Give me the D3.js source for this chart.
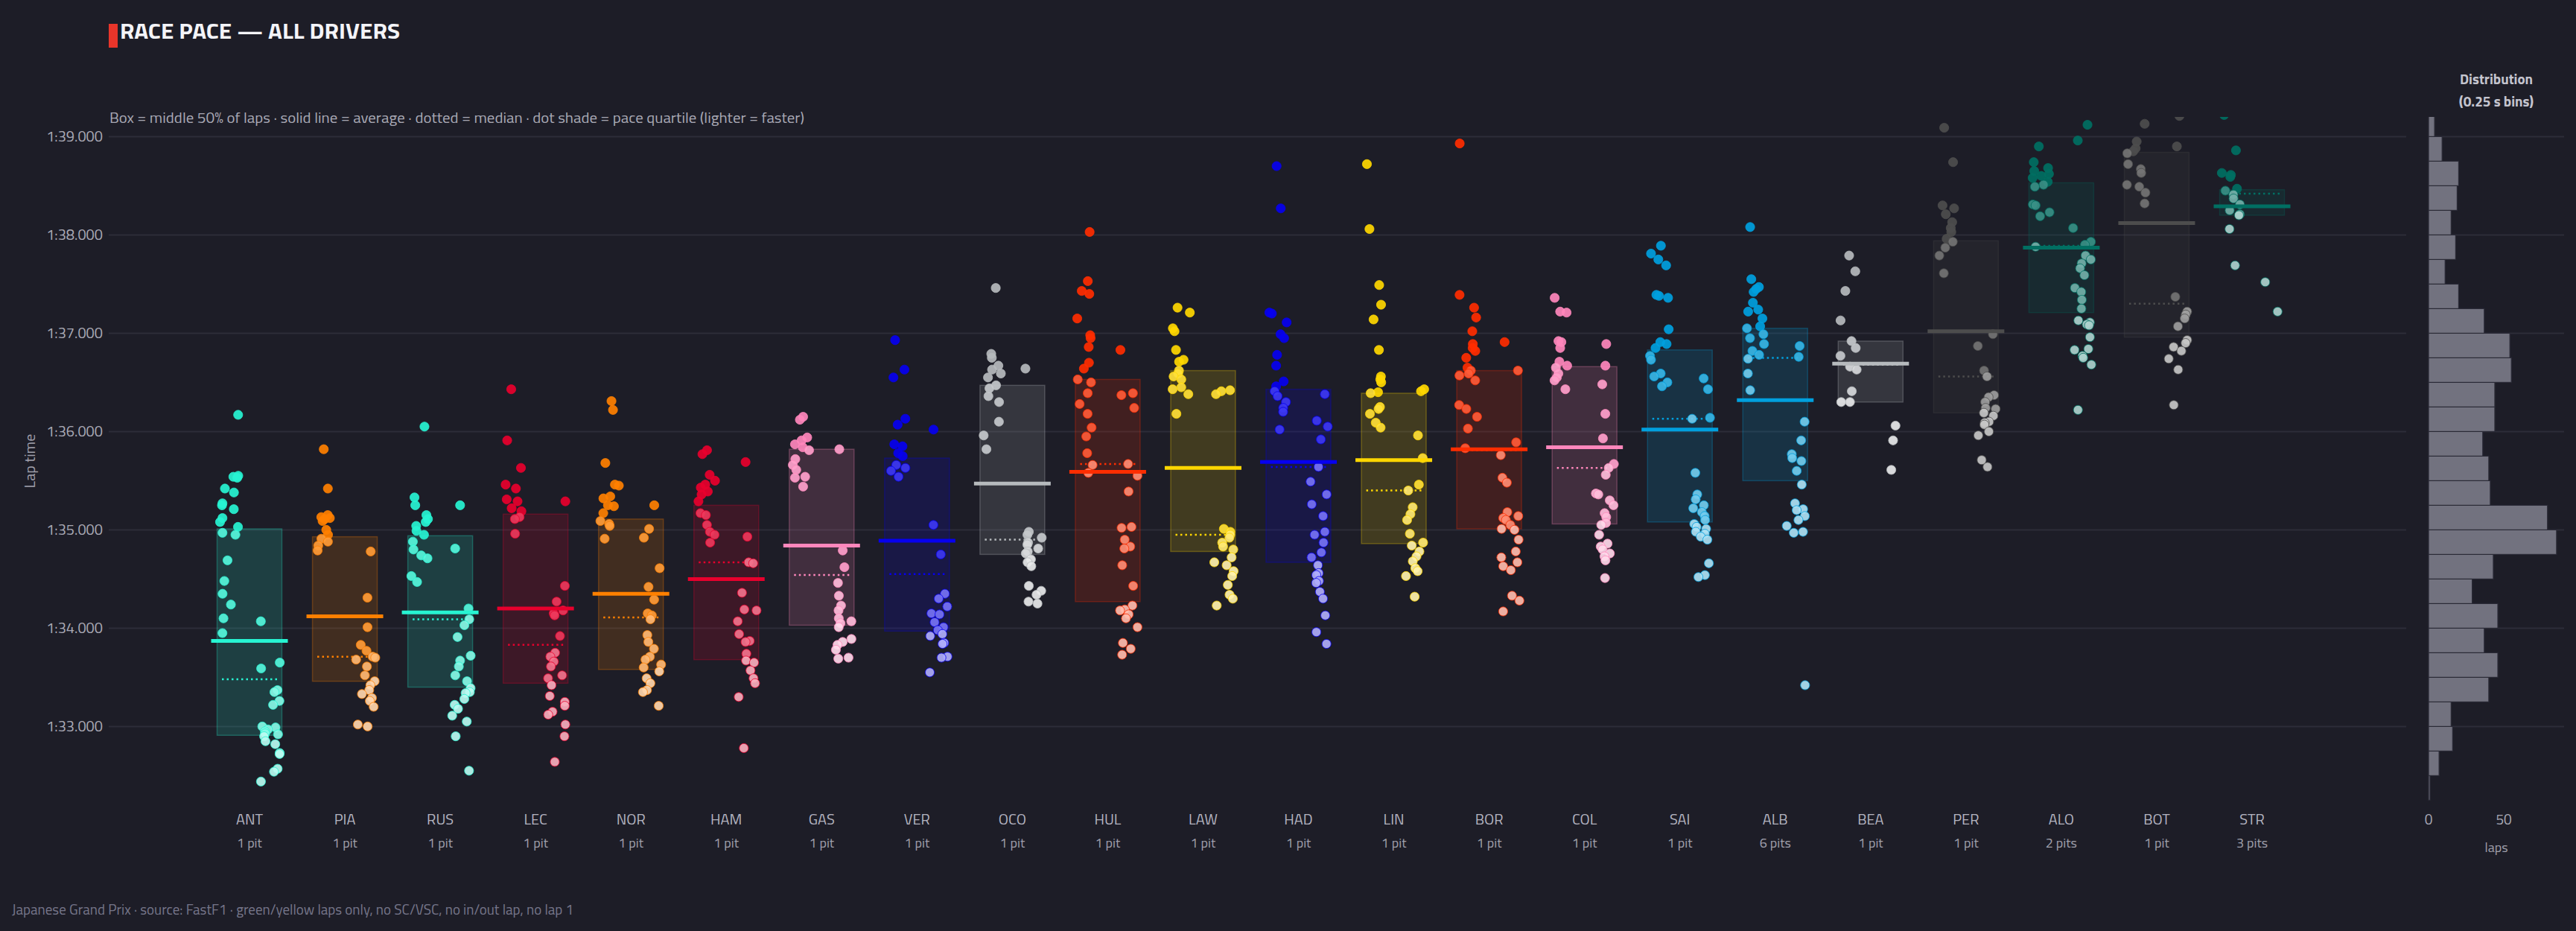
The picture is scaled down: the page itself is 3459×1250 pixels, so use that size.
<!DOCTYPE html>
<html>
<head>
<meta charset="utf-8">
<script src="https://cdn.jsdelivr.net/npm/d3@7"></script>
<style>
  body { margin: 0; background: #1d1d27; }
  svg { display: block; font-family: "Titillium Web", Roboto, "Noto Sans", sans-serif; }
</style>
</head>
<body>
<svg id="chart"></svg>
<script>
// race pace per driver, lap times in seconds
var drivers = ['ANT','PIA','RUS','LEC','NOR','HAM','GAS','VER','OCO','HUL','LAW','HAD','LIN','BOR','COL','SAI','ALB','BEA','PER','ALO','BOT','STR']
var teamColor = ['#27F4D2','#FF8000','#27F4D2','#E8002D','#FF8000','#E8002D','#FF87BC','#0600EF','#B6BABD','#FF2D00','#FFD700',
	'#0600EF','#FFD700','#FF2D00','#FF87BC','#00A0DE','#00A0DE','#B6BABD','#4D4D4D','#006F62','#4D4D4D','#006F62']
var pitStops = [1,1,1,1,1,1,1,1,1,1,1,1,1,1,1,1,6,1,1,2,1,3]

// left column of dots (early laps) and right column (later laps)
var earlyLaps = [
	[96.17,95.55,95.54,95.53,95.42,95.38,95.27,95.25,95.21,95.12,95.08,95.03,94.97,94.95,94.69,94.48,94.35,94.24,94.10,93.95],
	[95.82,95.42,95.15,95.13,95.12,95.11,95.09,95.00,94.95,94.91,94.88,94.84,94.79],
	[96.05,95.33,95.25,95.15,95.11,95.08,95.04,94.99,94.95,94.88,94.80,94.74,94.71,94.53,94.47],
	[96.43,95.91,95.63,95.46,95.42,95.31,95.29,95.22,95.19,95.13,95.11,94.96],
	[96.31,96.22,95.68,95.46,95.45,95.34,95.32,95.25,95.24,95.17,95.09,95.06,95.04,94.91],
	[95.81,95.77,95.56,95.50,95.46,95.43,95.39,95.36,95.29,95.17,95.15,95.05,94.98,94.95,94.87],
	[96.15,96.12,95.94,95.91,95.87,95.84,95.81,95.72,95.66,95.61,95.54,95.53,95.44],
	[96.93,96.63,96.55,96.13,96.07,95.87,95.85,95.78,95.75,95.66,95.63,95.60,95.54],
	[97.46,96.79,96.75,96.67,96.63,96.59,96.55,96.47,96.44,96.36,96.30,96.10,95.96,95.82],
	[98.03,97.53,97.43,97.40,97.15,96.98,96.95,96.86,96.70,96.64,96.53,96.50,96.39,96.28,96.18,96.04,95.95,95.78,95.66,95.58],
	[97.26,97.21,97.05,97.02,96.83,96.73,96.71,96.62,96.59,96.56,96.53,96.45,96.43,96.38,96.18],
	[98.70,98.27,97.21,97.20,97.11,96.99,96.95,96.78,96.67,96.51,96.46,96.41,96.36,96.30,96.24,96.20,96.02],
	[98.72,98.06,97.49,97.29,97.14,96.83,96.56,96.53,96.50,96.40,96.39,96.25,96.23,96.18,96.09,96.04],
	[98.93,97.39,97.26,97.16,97.02,96.89,96.85,96.82,96.75,96.65,96.62,96.59,96.57,96.52,96.27,96.23,96.15,96.03,95.83],
	[97.36,97.22,97.21,96.92,96.91,96.85,96.71,96.67,96.65,96.59,96.55,96.52,96.43],
	[97.89,97.81,97.75,97.69,97.39,97.38,97.36,97.04,96.91,96.89,96.85,96.77,96.73,96.59,96.56,96.50,96.46],
	[98.08,97.55,97.47,97.45,97.42,97.31,97.24,97.22,97.15,97.07,97.05,96.99,96.95,96.89,96.82,96.78,96.74,96.59,96.42],
	[97.79,97.63,97.43,97.13,96.92,96.85,96.77,96.66,96.63,96.41,96.30,96.30],
	[99.09,98.74,98.30,98.27,98.21,98.13,98.07,98.03,97.96,97.93,97.87,97.79,97.61],
	[98.90,98.74,98.68,98.65,98.62,98.60,98.58,98.54,98.51,98.49,98.31,98.30,98.23,98.19,97.88],
	[99.13,98.95,98.88,98.85,98.83,98.72,98.67,98.63,98.51,98.49,98.43,98.32],
	[99.22,98.86,98.63,98.61,98.59,98.47,98.45,98.41,98.37,98.31,98.25,98.21,98.20,98.06,97.69]
]
var lateLaps = [
	[94.07,93.65,93.59,93.37,93.35,93.26,93.22,93.00,92.99,92.97,92.95,92.93,92.92,92.90,92.85,92.82,92.73,92.72,92.57,92.54,92.44],
	[94.78,94.31,94.01,93.83,93.77,93.71,93.70,93.68,93.61,93.52,93.46,93.42,93.37,93.33,93.29,93.26,93.20,93.02,93.00],
	[95.25,94.81,94.20,94.09,94.03,93.91,93.72,93.67,93.61,93.52,93.46,93.39,93.35,93.34,93.28,93.22,93.18,93.11,93.05,92.90,92.55],
	[95.29,94.43,94.27,94.18,94.15,94.13,93.92,93.75,93.71,93.66,93.61,93.52,93.49,93.42,93.31,93.25,93.21,93.15,93.12,93.02,92.90,92.64],
	[95.25,95.01,94.92,94.61,94.42,94.29,94.15,94.13,94.09,93.93,93.86,93.79,93.71,93.68,93.63,93.60,93.56,93.49,93.44,93.37,93.35,93.21],
	[95.69,94.93,94.67,94.66,94.36,94.19,94.18,94.07,93.94,93.87,93.86,93.74,93.67,93.65,93.57,93.49,93.44,93.30,92.78],
	[95.82,94.79,94.62,94.46,94.33,94.23,94.18,94.10,94.07,94.05,94.01,93.89,93.86,93.83,93.78,93.70,93.69],
	[96.02,95.05,94.75,94.35,94.30,94.22,94.15,94.14,94.06,94.01,93.98,93.94,93.92,93.85,93.84,93.71,93.70,93.55],
	[96.64,94.98,94.95,94.92,94.87,94.85,94.81,94.78,94.76,94.70,94.67,94.63,94.43,94.38,94.34,94.27,94.25],
	[96.83,96.39,96.37,96.24,95.67,95.55,95.39,95.03,95.02,94.90,94.83,94.81,94.64,94.43,94.23,94.19,94.18,94.14,94.10,94.01,93.85,93.79,93.73],
	[96.42,96.41,96.38,95.01,94.98,94.95,94.92,94.87,94.83,94.80,94.72,94.67,94.64,94.58,94.53,94.44,94.34,94.30,94.23],
	[96.38,96.11,96.05,95.92,95.64,95.49,95.36,95.26,95.14,94.98,94.95,94.87,94.77,94.72,94.64,94.56,94.54,94.48,94.46,94.37,94.30,94.13,93.96,93.84],
	[96.43,96.41,95.96,95.73,95.46,95.40,95.23,95.16,95.10,94.96,94.87,94.84,94.78,94.73,94.68,94.61,94.58,94.53,94.32],
	[96.91,96.62,95.89,95.76,95.53,95.48,95.18,95.14,95.12,95.10,95.05,95.01,95.00,94.90,94.78,94.72,94.67,94.63,94.59,94.33,94.28,94.17],
	[96.89,96.67,96.48,96.18,95.93,95.67,95.63,95.56,95.37,95.36,95.30,95.25,95.17,95.13,95.07,95.05,94.95,94.86,94.83,94.80,94.76,94.73,94.69,94.51],
	[96.54,96.43,96.14,96.13,95.58,95.36,95.31,95.25,95.22,95.18,95.14,95.10,95.06,95.03,95.01,94.98,94.96,94.93,94.90,94.66,94.54,94.52],
	[96.87,96.76,96.10,95.91,95.77,95.73,95.70,95.60,95.46,95.27,95.21,95.20,95.14,95.10,95.04,94.98,94.97,93.42],
	[96.06,95.91,95.61],
	[96.99,96.87,96.62,96.56,96.37,96.35,96.30,96.24,96.23,96.19,96.16,96.10,96.09,96.07,96.00,95.96,95.71,95.64],
	[99.12,98.96,98.07,97.93,97.90,97.79,97.75,97.71,97.66,97.59,97.46,97.42,97.34,97.25,97.13,97.11,97.09,97.08,96.96,96.84,96.83,96.77,96.75,96.68,96.22],
	[99.21,98.90,97.37,97.22,97.19,97.15,97.07,96.93,96.90,96.86,96.82,96.74,96.63,96.27],
	[97.52,97.22]
]

// box stats read per driver
var q1      = [92.91,93.46,93.40,93.44,93.58,93.68,94.03,93.97,94.75,94.27,94.78,94.67,94.86,95.01,95.06,95.08,95.50,96.30,96.19,97.21,96.96,98.20]
var median  = [93.48,93.71,94.09,93.83,94.11,94.67,94.54,94.55,94.90,95.67,94.95,95.64,95.40,95.81,95.63,96.13,96.75,96.68,96.56,97.89,97.30,98.42]
var q3      = [95.01,94.93,94.94,95.16,95.11,95.25,95.82,95.73,96.47,96.53,96.62,96.43,96.39,96.62,96.66,96.83,97.05,96.92,97.94,98.53,98.84,98.46]
var average = [93.87,94.12,94.16,94.20,94.35,94.50,94.84,94.89,95.47,95.59,95.63,95.69,95.71,95.82,95.84,96.02,96.32,96.69,97.02,97.87,98.12,98.29]

var yTicks = [93,94,95,96,97,98,99]
// all-driver histogram, 0.25 s bins starting at 1:32.250
var histStart = 92.25
var histStep = 0.25
var histCounts = [1,7,16,15,40,46,37,46,29,43,85,79,41,40,36,44,44,55,54,37,20,11,18,15,19,20,9,4]
var histTicks = [0,50]

var W = 3459, H = 1250
var bg = '#1d1d27'
var svg = d3.select('#chart').attr('width', W).attr('height', H)
svg.append('rect').attr('width', W).attr('height', H).attr('fill', bg)

var y = d3.scaleLinear().domain([92.2, 99.2]).range([1081, 157])
var x = d3.scalePoint().domain(drivers).range([335, 3024])
var hx = d3.scaleLinear().domain([0, 90]).range([3261, 3443])

function fmt(s){
	var m = Math.floor(s/60)
	return m + ':' + (s - m*60).toFixed(3).padStart(6,'0')
}
// fixed horizontal spread inside a column (no randomness, same every run)
function spread(i, j, side){
	var h = Math.sin(i*78.233 + j*12.9898 + side*4.1414) * 43758.5453
	return (h - Math.floor(h)) - 0.5
}

svg.append('clipPath').attr('id','plotclip').append('rect')
	.attr('x', 0).attr('y', y.range()[1]).attr('width', W).attr('height', y.range()[0]-y.range()[1])

// title
svg.append('rect').attr('x',146).attr('y',32).attr('width',12).attr('height',32).attr('fill','#e8352a')
svg.append('text').attr('x',161).attr('y',52).text('RACE PACE — ALL DRIVERS')
	.attr('fill','#f4f4f8').style('font-size','29px').style('font-weight',700)
	.attr('textLength',376).attr('lengthAdjust','spacingAndGlyphs')
svg.append('text').attr('x',147).attr('y',165)
	.text('Box = middle 50% of laps · solid line = average · dotted = median · dot shade = pace quartile (lighter = faster)')
	.attr('fill','#a9a9b5').style('font-size','20px')
	.attr('textLength',933).attr('lengthAdjust','spacingAndGlyphs')

// grid
var grid = svg.append('g')
yTicks.forEach(function(t){
	grid.append('line').attr('x1',146).attr('x2',3231).attr('y1',y(t)).attr('y2',y(t))
		.attr('stroke','#2d2d39').attr('stroke-width',2)
	grid.append('line').attr('x1',hx(0)).attr('x2',hx(90)).attr('y1',y(t)).attr('y2',y(t))
		.attr('stroke','#2d2d39').attr('stroke-width',2)
	grid.append('text').attr('x',138).attr('y',y(t)).attr('dy','0.35em').attr('text-anchor','end')
		.text(fmt(t)).attr('fill','#a9a9b5').style('font-size','20px')
})
svg.append('text').attr('transform','translate(40,'+((y.range()[0]+y.range()[1])/2)+') rotate(-90)')
	.attr('text-anchor','middle').attr('dy','0.35em').text('Lap time')
	.attr('fill','#a0a0ac').style('font-size','20px')

var plot = svg.append('g').attr('clip-path','url(#plotclip)')
var boxHalf = 43.5

function shade(i, v){
	var t = v <= q1[i] ? 0.68 : v <= median[i] ? 0.45 : v <= q3[i] ? 0.22 : 0
	return d3.interpolateRgb(teamColor[i], '#ffffff')(t)
}

drivers.forEach(function(d, i){
	var cx = x(d), c = teamColor[i]
	var g = plot.append('g')
	g.append('rect').attr('x',cx-boxHalf).attr('width',boxHalf*2)
		.attr('y',y(q3[i])).attr('height',y(q1[i])-y(q3[i]))
		.attr('fill',c).attr('fill-opacity',0.16)
		.attr('stroke',c).attr('stroke-opacity',0.28).attr('stroke-width',1.5)
	g.append('line').attr('x1',cx-37).attr('x2',cx+37).attr('y1',y(median[i])).attr('y2',y(median[i]))
		.attr('stroke',c).attr('stroke-width',2.5).attr('stroke-dasharray','2.5 4')

	var pts = []
	earlyLaps[i].forEach(function(v, j){ pts.push({v: v, side: -1, j: j}) })
	lateLaps[i].forEach(function(v, j){ pts.push({v: v, side: 1, j: j}) })
	g.selectAll('circle').data(pts).enter().append('circle')
		.attr('cx', function(p){ return cx + p.side*28 + spread(i, p.j, p.side)*26 })
		.attr('cy', function(p){ return y(p.v) })
		.attr('r', 6.1)
		.attr('fill', function(p){ return shade(i, p.v) })
		.attr('fill-opacity', 0.92)
		.attr('stroke', c).attr('stroke-opacity', 0.8).attr('stroke-width', 1)

	g.append('line').attr('x1',cx-51.5).attr('x2',cx+51.5).attr('y1',y(average[i])).attr('y2',y(average[i]))
		.attr('stroke',c).attr('stroke-width',5)

	svg.append('text').attr('x',cx).attr('y',1107).attr('text-anchor','middle').text(d)
		.attr('fill','#b4b4c0').style('font-size','20px')
	svg.append('text').attr('x',cx).attr('y',1138).attr('text-anchor','middle')
		.text(pitStops[i] + (pitStops[i] == 1 ? ' pit' : ' pits'))
		.attr('fill','#a0a0ac').style('font-size','18px')
})

// distribution histogram
var hist = svg.append('g').attr('clip-path','url(#plotclip)')
hist.selectAll('rect').data(histCounts).enter().append('rect')
	.attr('x', hx(0))
	.attr('y', function(n, k){ return y(histStart + (k+1)*histStep) })
	.attr('width', function(n){ return hx(n) - hx(0) })
	.attr('height', function(n, k){ return y(histStart + k*histStep) - y(histStart + (k+1)*histStep) })
	.attr('fill','#72727f').attr('stroke','#2a2a36').attr('stroke-width',1.2)

histTicks.forEach(function(t){
	svg.append('text').attr('x',hx(t)).attr('y',1107).attr('text-anchor','middle').text(t)
		.attr('fill','#a9a9b5').style('font-size','19px')
})
svg.append('text').attr('x',3352).attr('y',1144).attr('text-anchor','middle').text('laps')
	.attr('fill','#a0a0ac').style('font-size','18px')
svg.append('text').attr('x',3352).attr('y',113).attr('text-anchor','middle').text('Distribution')
	.attr('fill','#c4c4ce').style('font-size','19px').style('font-weight',700)
svg.append('text').attr('x',3352).attr('y',143).attr('text-anchor','middle').text('(0.25 s bins)')
	.attr('fill','#c4c4ce').style('font-size','19px').style('font-weight',700)

svg.append('text').attr('x',16).attr('y',1228)
	.text('Japanese Grand Prix  ·  source: FastF1  ·  green/yellow laps only, no SC/VSC, no in/out lap, no lap 1')
	.attr('fill','#76768a').style('font-size','19px')
</script>
</body>
</html>
